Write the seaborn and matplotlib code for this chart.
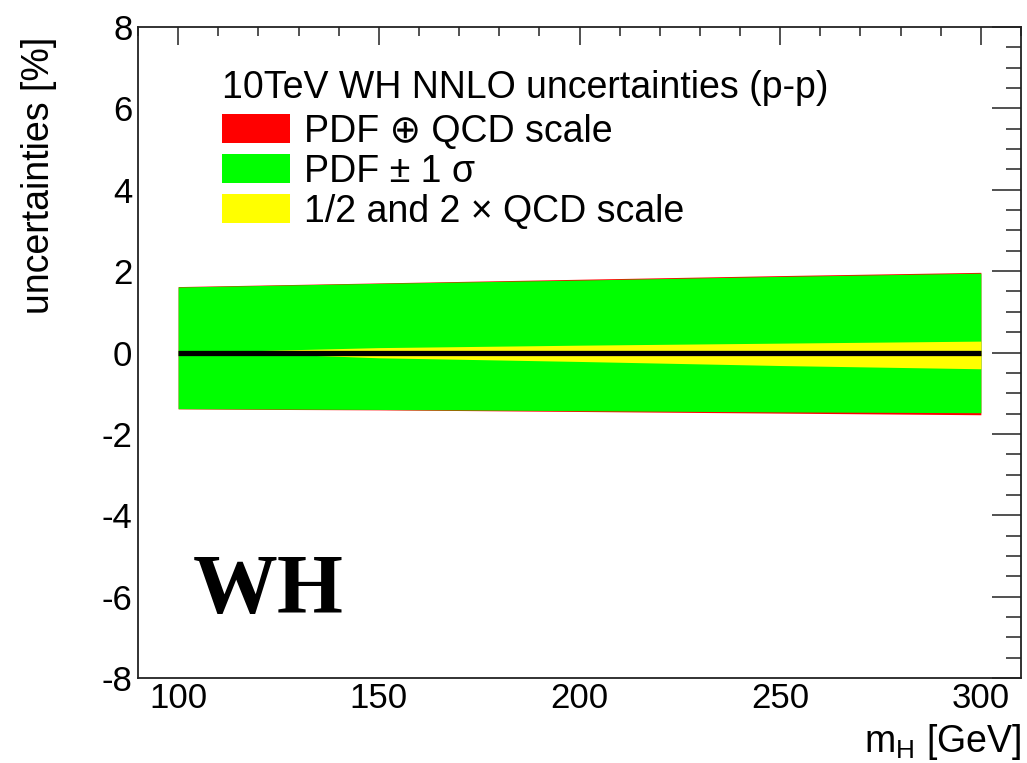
import numpy as np
import pandas as pd
import matplotlib
matplotlib.use("Agg")
import matplotlib.pyplot as plt
import seaborn as sns
from matplotlib.patches import Patch
from matplotlib.ticker import MultipleLocator

# ---- data ----
mH = [100, 125, 150, 200, 250, 300]
central = [0.0, 0.0, 0.0, 0.0, 0.0, 0.0]
tot_up = [1.62, 1.665, 1.71, 1.80, 1.89, 1.97]
tot_dn = [-1.385, -1.40, -1.41, -1.45, -1.49, -1.53]
pdf_up = [1.61, 1.655, 1.70, 1.78, 1.87, 1.95]
pdf_dn = [-1.38, -1.39, -1.40, -1.43, -1.46, -1.48]
scale_up = [0.0, 0.06, 0.12, 0.18, 0.23, 0.28]
scale_dn = [0.0, -0.04, -0.13, -0.22, -0.32, -0.40]

legend_title = "10TeV WH NNLO uncertainties (p-p)"
labels = ["PDF \u2295 QCD scale", "PDF \u00b1 1 \u03c3", "1/2 and 2 \u00d7 QCD scale"]
colors = ["#ff0000", "#00ff00", "#ffff00"]
xticks = [100, 150, 200, 250, 300]
yticks = [-8, -6, -4, -2, 0, 2, 4, 6, 8]

sns.set_theme(style="white")
plt.rcParams["font.family"] = ["Liberation Sans", "DejaVu Sans"]
plt.rcParams["mathtext.fontset"] = "custom"
plt.rcParams["mathtext.rm"] = "Liberation Sans"
plt.rcParams["mathtext.it"] = "Liberation Sans"
plt.rcParams["mathtext.default"] = "regular"
plt.rcParams["axes.unicode_minus"] = False
for k in ["text.color", "axes.labelcolor", "xtick.color", "ytick.color", "axes.edgecolor"]:
    plt.rcParams[k] = "black"

df = pd.DataFrame({"mH": mH, "central": central})

fig = plt.figure(figsize=(10.27, 7.63), dpi=100)
ax = fig.add_axes([138 / 1027, 1 - 678 / 763, 883 / 1027, 651 / 763])

ax.fill_between(mH, tot_dn, tot_up, color=colors[0], lw=0)
ax.fill_between(mH, pdf_dn, pdf_up, color=colors[1], lw=0)
ax.fill_between(mH, scale_dn, scale_up, color=colors[2], lw=0)
sns.lineplot(data=df, x="mH", y="central", color="black", lw=3.8, ax=ax, legend=False,
             solid_capstyle="butt")

ax.set_xlim(90, 310)
ax.set_ylim(-8, 8)
ax.set_xticks(xticks)
ax.set_yticks(yticks)
ax.xaxis.set_minor_locator(MultipleLocator(10))
ax.yaxis.set_minor_locator(MultipleLocator(0.5))
ax.tick_params(which="both", direction="in", top=True, right=True, color="#222222", width=1.1)
ax.tick_params(axis="y", which="major", length=21, labelsize=25, pad=4)
ax.tick_params(axis="y", which="minor", length=10.8)
ax.tick_params(axis="x", which="major", length=13, labelsize=25, pad=3)
ax.tick_params(axis="x", which="minor", length=6.5)
for s in ax.spines.values():
    s.set_linewidth(1.3)
    s.set_color("#222222")
    s.set_visible(True)

ax.set_xlabel("$m_{H}$ [GeV]", fontsize=27, loc="right")
ax.xaxis.set_label_coords(1.0, -0.068)
ax.set_ylabel("uncertainties [%]", fontsize=27, loc="top")
ax.yaxis.set_label_coords(-0.092, 0.985)

handles = [Patch(facecolor=c, edgecolor="none") for c in colors]
leg = ax.legend(handles, labels, title=legend_title, loc="upper left",
                bbox_to_anchor=(222 / 1027, 1 - 70 / 763), bbox_transform=fig.transFigure,
                frameon=False, fontsize=27, title_fontsize=27, alignment="left",
                borderpad=0, borderaxespad=0, handlelength=1.81, handleheight=0.8,
                handletextpad=0.37, labelspacing=0.11)
leg._legend_box.sep = 27 * 0.11 + 2.5

ax.text(193 / 1027, 1 - 613 / 763, "WH", transform=fig.transFigure, fontsize=61,
        fontweight="bold", family="Liberation Serif", va="baseline", ha="left",
        color="black")

fig.savefig("out.png", dpi=100)
